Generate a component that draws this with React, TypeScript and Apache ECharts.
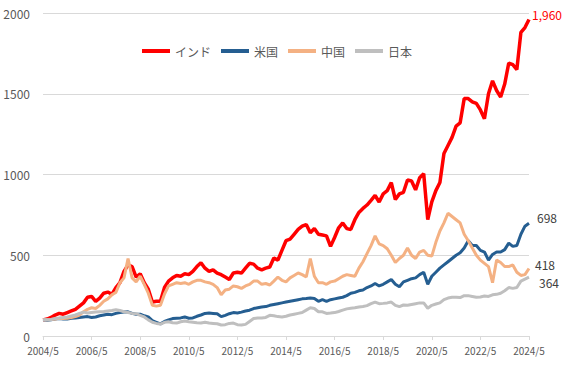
import React, { useEffect, useRef } from "react";
import * as echarts from "echarts";

// Bimonthly observations from 2004/5 to 2024/5 (index 2004/5 = 100)
const startYear = 2004;
const startMonth = 5;
const pointCount = 121;
const stepMonths = 2;

const categories: string[] = [];
for (let i = 0; i < pointCount; i++) {
  const m0 = startMonth - 1 + i * stepMonths;
  categories.push(`${startYear + Math.floor(m0 / 12)}/${(m0 % 12) + 1}`);
}

const seriesNames = ["インド", "米国", "中国", "日本"];

const india = [
  100, 105, 115, 130, 140, 135, 145, 155, 165, 185, 205, 240, 245, 215, 235, 265,
  272, 258, 300, 330, 400, 440, 430, 365, 385, 330, 290, 210, 215, 215, 300, 340,
  360, 375, 370, 385, 380, 400, 430, 454, 420, 400, 410, 390, 380, 365, 350, 390,
  395, 390, 420, 450, 445, 420, 410, 420, 427, 483, 470, 530, 590, 600, 630, 660,
  680, 690, 640, 665, 630, 625, 620, 555, 610, 670, 700, 665, 660, 720, 765, 790,
  811, 840, 870, 830, 880, 900, 950, 845, 880, 890, 966, 960, 905, 980, 1005, 720,
  830, 900, 950, 1130, 1180, 1230, 1300, 1320, 1470, 1470, 1450, 1440, 1400, 1345, 1500, 1580,
  1520, 1480, 1560, 1690, 1680, 1650, 1880, 1910, 1960,
];

const usa = [
  100, 98, 100, 105, 108, 105, 105, 110, 112, 115, 118, 120, 115, 118, 125, 130,
  135, 132, 140, 145, 148, 150, 140, 135, 135, 125, 118, 95, 85, 75, 90, 100,
  108, 110, 112, 118, 110, 112, 122, 130, 140, 142, 140, 138, 120, 128, 138, 145,
  142, 148, 155, 160, 170, 175, 180, 182, 190, 195, 200, 205, 210, 215, 220, 225,
  230, 232, 235, 232, 215, 225, 215, 225, 230, 235, 240, 250, 265, 270, 280, 285,
  300, 310, 325, 310, 320, 335, 350, 320, 305, 335, 345, 355, 360, 380, 395, 320,
  370, 395, 420, 440, 460, 480, 500, 515, 545, 590, 560, 560, 530, 520, 470, 505,
  520, 520, 535, 575, 555, 560, 630, 680, 698,
];

const china = [
  100, 100, 102, 105, 110, 108, 110, 115, 120, 130, 150, 165, 175, 170, 190, 215,
  230, 255, 270, 330, 360, 480, 360, 335, 370, 320, 265, 190, 185, 190, 260, 310,
  320, 330, 325, 330, 320, 335, 345, 345, 335, 330, 320, 300, 255, 285, 290, 310,
  305, 295, 310, 320, 340, 340, 320, 325, 316, 340, 365, 345, 335, 360, 375, 390,
  380, 365, 480, 370, 330, 330, 320, 335, 340, 355, 370, 380, 375, 370, 420, 460,
  510, 560, 620, 570, 560, 540, 500, 455, 480, 500, 545, 500, 480, 520, 530, 500,
  495, 580, 650, 700, 760, 740, 720, 700, 630, 590, 545, 500, 470, 450, 430, 330,
  470, 455, 430, 430, 440, 395, 375, 380, 418,
];

const japan = [
  100, 100, 102, 108, 111, 115, 118, 124, 130, 140, 148, 142, 145, 148, 150, 152,
  155, 158, 162, 158, 150, 145, 140, 138, 128, 118, 100, 85, 78, 74, 85, 88,
  82, 80, 88, 93, 88, 85, 82, 80, 85, 80, 78, 76, 68, 70, 78, 80,
  70, 68, 72, 90, 108, 112, 112, 115, 128, 125, 120, 118, 122, 130, 135, 140,
  145, 160, 175, 170, 150, 150, 140, 142, 145, 152, 160, 168, 172, 175, 180, 183,
  188, 200, 210, 200, 202, 205, 210, 190, 182, 192, 190, 195, 200, 205, 205, 172,
  190, 198, 205, 225, 235, 240, 240, 238, 250, 250, 245, 240, 242, 248, 245, 255,
  258, 265, 280, 300, 295, 300, 340, 352, 364,
];

const yTicks = { min: 0, max: 2000, interval: 500 };

const colors = ["#FF0000", "#255E91", "#F4B183", "#BFBFBF"];
const endLabelColors = ["#FF0000", "#404040", "#404040", "#404040"];
const endLabelOffsets: [number, number][] = [
  [-5, -5],
  [0, -6],
  [-2, -4],
  [2, 5],
];

const FONT = '"Noto Sans CJK JP", "Noto Sans", sans-serif';

export default function App() {
  const ref = useRef<HTMLDivElement>(null);

  useEffect(() => {
    if (!ref.current) return;
    const chart = echarts.init(ref.current, null, { renderer: "svg" });
    const data = [india, usa, china, japan];
    chart.setOption({
      animation: false,
      backgroundColor: "#ffffff",
      textStyle: { fontFamily: FONT },
      grid: { left: 43, right: 38, top: 13, bottom: 36, containLabel: false },
      legend: {
        data: seriesNames,
        left: 137,
        top: 40,
        icon: "rect",
        itemWidth: 28,
        itemHeight: 4,
        itemGap: 10,
        textStyle: { color: "#595959", fontSize: 12, fontFamily: FONT },
      },
      xAxis: {
        type: "category",
        data: categories,
        boundaryGap: false,
        axisLine: { lineStyle: { color: "#D9D9D9", width: 1 } },
        axisTick: { show: true, interval: 11, length: 4, lineStyle: { color: "#D9D9D9" } },
        axisLabel: {
          interval: 11,
          color: "#595959",
          fontSize: 10,
          lineHeight: 10,
          margin: 9,
          fontFamily: FONT,
        },
        splitLine: { show: false },
      },
      yAxis: {
        type: "value",
        min: yTicks.min,
        max: yTicks.max,
        interval: yTicks.interval,
        axisLine: { show: false },
        axisTick: { show: false },
        axisLabel: {
          color: "#595959",
          fontSize: 12,
          lineHeight: 12,
          margin: 13,
          fontFamily: FONT,
          formatter: (v: number) => String(v),
        },
        splitLine: { lineStyle: { color: "#D9D9D9", width: 1 } },
      },
      series: seriesNames.map((name, k) => ({
        name,
        type: "line",
        data: data[k],
        showSymbol: false,
        symbol: "none",
        color: colors[k],
        lineStyle: { color: colors[k], width: k === 0 ? 3.5 : 3 },
        endLabel: {
          show: true,
          formatter: (p: any) => Number(p.value).toLocaleString("en-US"),
          color: endLabelColors[k],
          fontSize: 12,
          fontFamily: FONT,
          offset: endLabelOffsets[k],
        },
      })),
    });
    return () => chart.dispose();
  }, []);

  return (
    <div
      ref={ref}
      style={{ position: "fixed", left: 0, top: 0, width: 567, height: 372 }}
    />
  );
}
